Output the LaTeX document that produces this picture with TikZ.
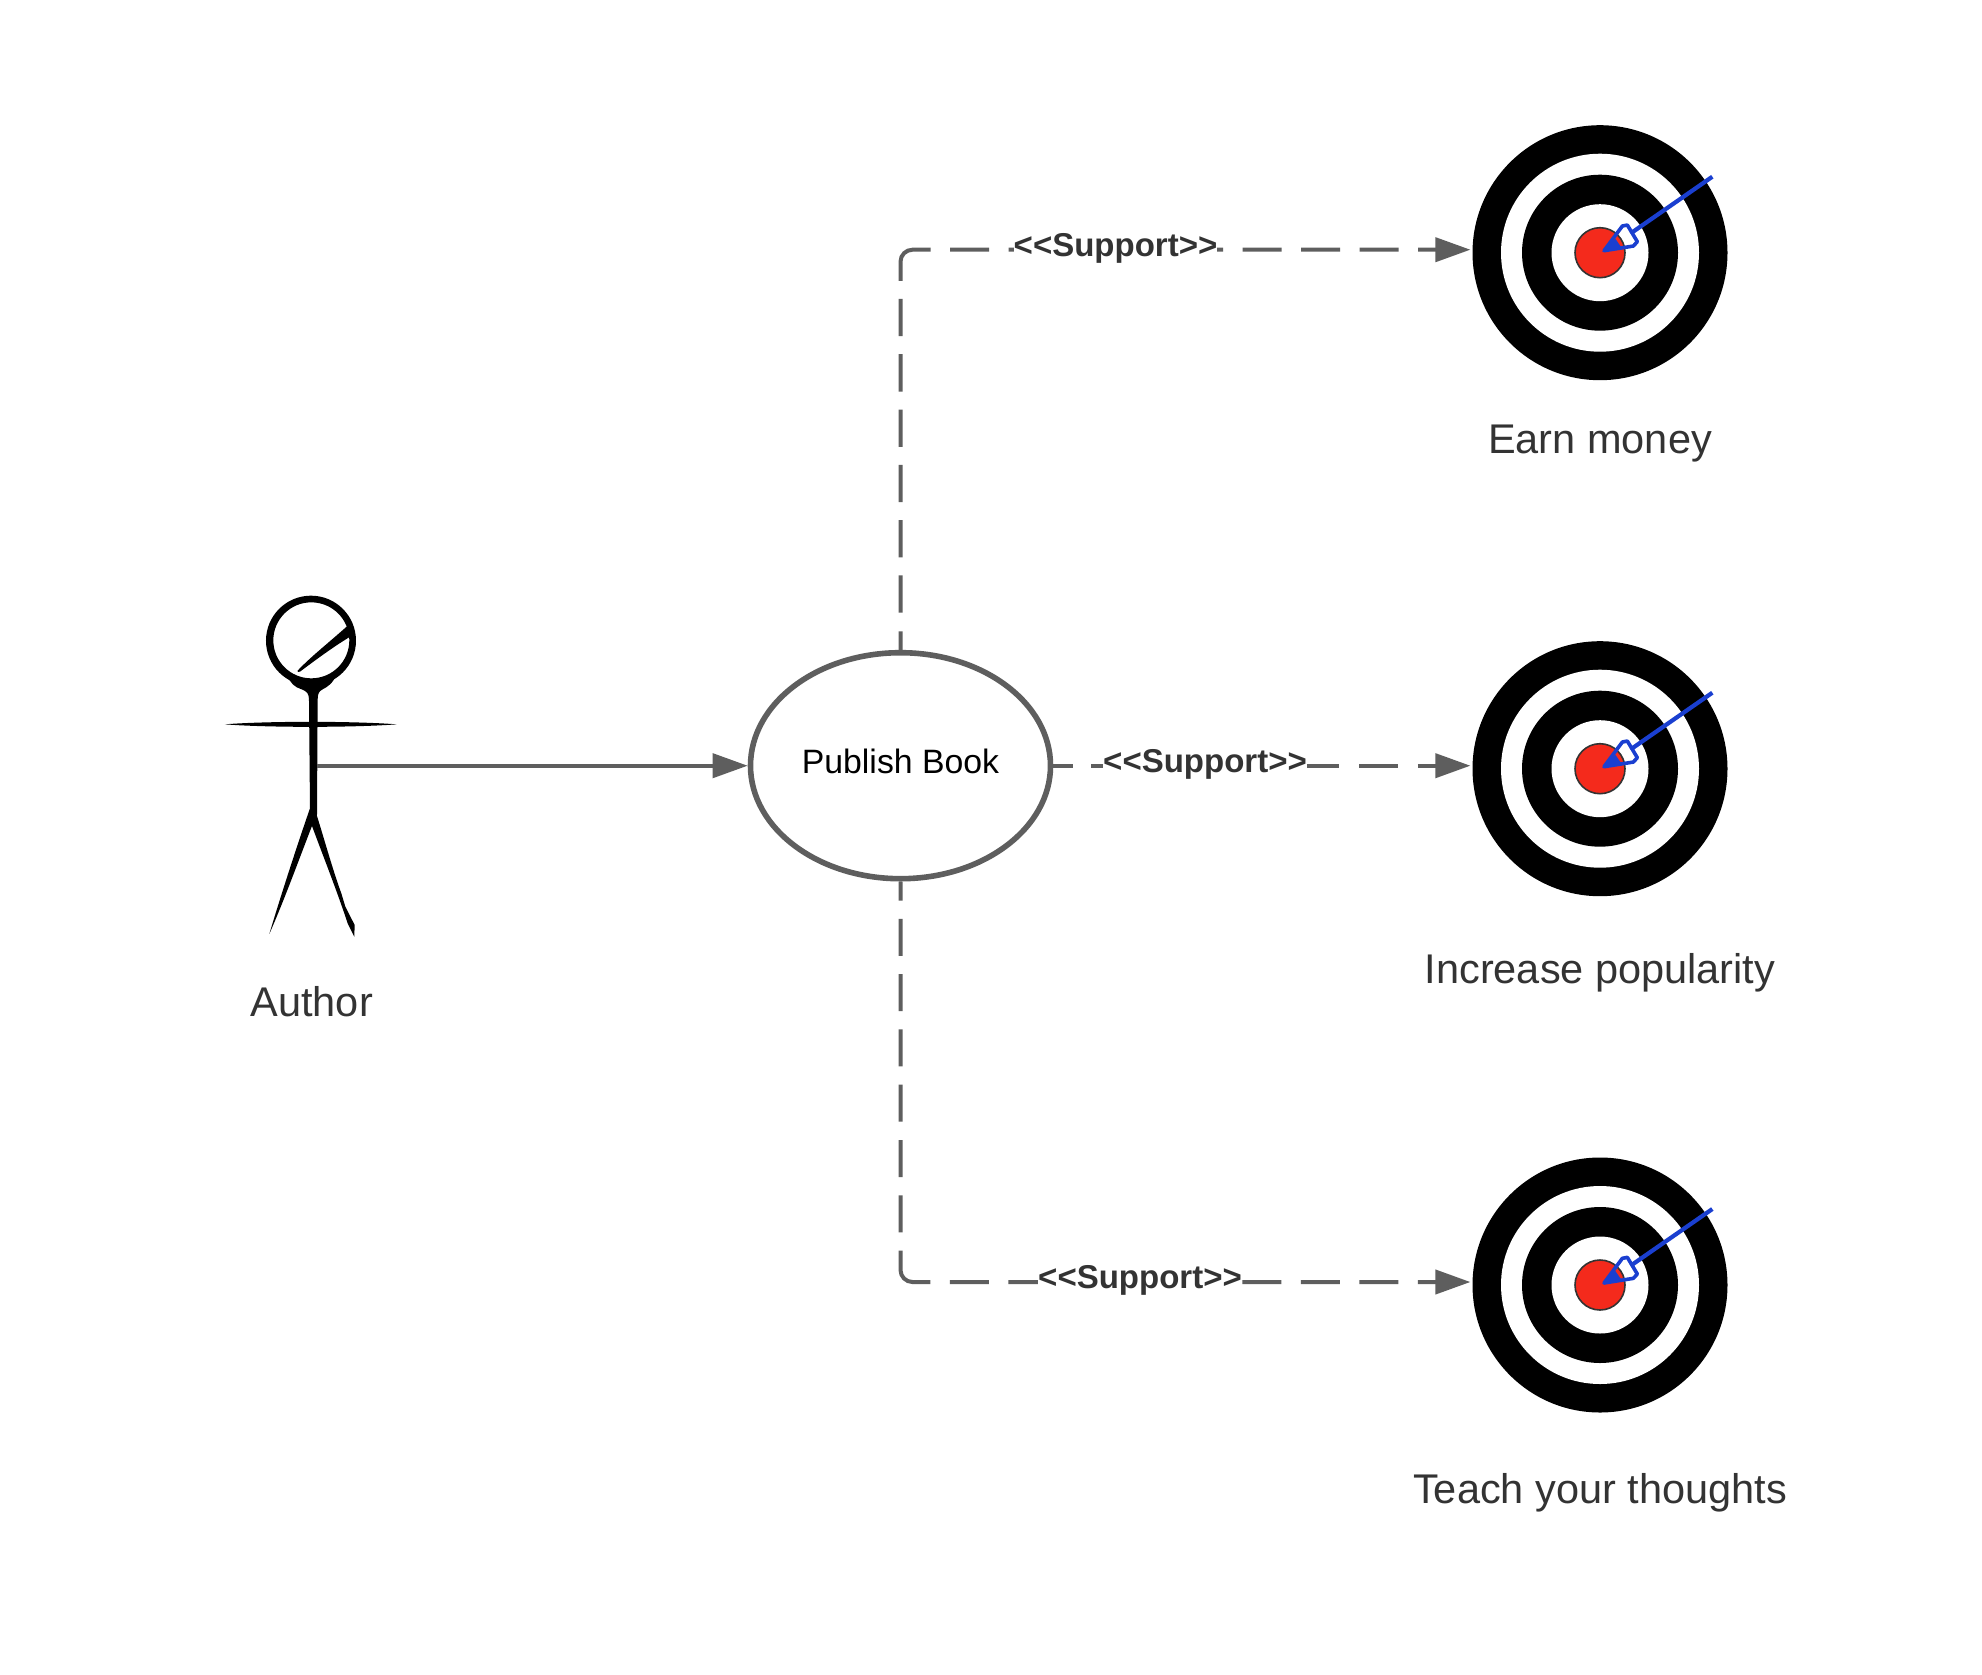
\documentclass[tikz,border=0pt]{standalone}
\usepackage{fontspec}
\setmainfont{Liberation Sans}
\usetikzlibrary{arrows.meta,shapes.geometric}
\definecolor{linegray}{HTML}{5E5E5E}
\definecolor{txtgray}{HTML}{333333}
\definecolor{bullred}{HTML}{F42A1C}
\definecolor{arrowblue}{HTML}{1A3FD0}
\tikzset{
  conn/.style={draw=linegray,line width=4pt,-{Triangle[length=35pt,width=24pt]}},
  usecase/.style={ellipse,draw=linegray,line width=5.6pt,fill=white,minimum width=300pt,minimum height=226pt,inner sep=0pt,
     font=\fontsize{33.8pt}{36pt}\selectfont,text=black,text height=24.3pt,text depth=9.7pt},
  supportlbl/.style={anchor=base,fill=white,inner xsep=0pt,inner ysep=1pt,text=txtgray,font=\fontsize{33pt}{36pt}\selectfont\bfseries},
  captionlbl/.style={anchor=base,inner sep=0pt,text=txtgray,font=\fontsize{41.5pt}{46pt}\selectfont},
  target/.pic={
    \fill[black] (0,0) circle[radius=127.5];
    \fill[white] (0,0) circle[radius=99];
    \fill[black] (0,0) circle[radius=78];
    \fill[white] (0,0) circle[radius=48.5];
    \filldraw[fill=bullred,draw=black!80,line width=1.6pt] (0,0) circle[radius=25];
    \begin{scope}[x=0.3333pt,y=-0.3333pt]
      \draw[arrowblue,line width=4.2pt] (92,-58) -- (337,-228);
      \draw[arrowblue,line width=3.6pt,line join=round] (12,-6) -- (67,-80) -- (82,-83) -- (112,-33) -- (100,-20) -- cycle;
      \fill[arrowblue] (12,-6) -- (46,-42) -- (64,-16) -- cycle;
    \end{scope}
    \coordinate (-in) at (-129.6,-3);
  }
}
\begin{document}
\begin{tikzpicture}[x=1pt,y=-1pt]
\useasboundingbox (0,0) rectangle (1982,1674);
\fill[white] (0,0) rectangle (1982,1674);

% actor
\begin{scope}[shift={(200,570)},x=0.3333pt,y=-0.3333pt]
  \fill[black,even odd rule] (333,212) circle[radius=135] (334,211) circle[radius=114];
  % thick lower rim and neck, body and legs
  \fill[black] (262,315) .. controls (285,338) and (315,340) .. (335,340)
     .. controls (360,340) and (385,338) .. (408,315)
     .. controls (400,340) and (380,352) .. (368,358)
     .. controls (356,364) and (353,372) .. (353,390)
     -- (351,738) .. controls (375,815) and (400,905) .. (424,970)
     -- (436,1010) -- (464,1065) -- (463,1100)
     -- (443,1060) .. controls (410,960) and (370,860) .. (336,768)
     .. controls (300,860) and (255,985) .. (208,1092)
     .. controls (240,985) and (290,830) .. (330,715) -- (327,390)
     .. controls (327,372) and (322,364) .. (305,358)
     .. controls (285,352) and (270,340) .. cycle;
  % arms
  \fill[black] (75,463) .. controls (200,453) and (460,453) .. (590,463)
     .. controls (460,473) and (200,473) .. (75,463) -- cycle;
  % head stroke
  \fill[black] (292,303) .. controls (330,262) and (390,215) .. (442,168)
     -- (454,198) .. controls (400,230) and (340,275) .. (300,305) .. controls (296,306) and (292,306) .. cycle;
\end{scope}
\coordinate (authorbody) at (316.7,765.7);

% use case
\node[usecase] (pub) at (900.5,765.7) {Publish Book};

% targets
\pic (goalA) at (1600,252.7) {target};
\pic (goalB) at (1600,768.7) {target};
\pic (goalC) at (1600,1285) {target};

% connectors
\draw[conn] (authorbody) -- (pub.west);
\draw[conn,rounded corners=12pt,
  dash pattern=on 18.5pt off 18.7pt on 37.3pt off 18pt on 37.3pt off 18pt on 37.3pt off 18pt on 37.3pt off 18pt on 37.3pt off 18pt on 37.3pt off 18pt on 56pt off 19.5pt on 39pt off 19.5pt on 39pt off 19.5pt on 39pt off 19.5pt on 39pt off 19.5pt on 39pt off 19.5pt on 39pt off 19.5pt on 39pt off 19.5pt on 39pt off 19.5pt on 60pt off 0pt]
  (pub.north) |- (goalA-in);
\draw[conn,dash pattern=on 20pt off 18pt on 248pt off 20pt on 39pt off 19.5pt on 60pt off 0pt]
  (pub.east) -- (goalB-in);
\draw[conn,rounded corners=12pt,
  dash pattern=on 19pt off 18.3pt on 37pt off 18.3pt on 37pt off 18.3pt on 37pt off 18.3pt on 37pt off 18.3pt on 37pt off 18.3pt on 37pt off 18.3pt on 56pt off 19.5pt on 39pt off 19.5pt on 39pt off 19.5pt on 39pt off 19.5pt on 39pt off 19.5pt on 39pt off 19.5pt on 39pt off 19.5pt on 39pt off 19.5pt on 39pt off 19.5pt on 60pt off 0pt]
  (pub.south) |- (goalC-in);

% connector labels
\node[supportlbl] (supA) at (1115.5,256.2) {<{}<Support>{}>};
\node[supportlbl] (supB) at (1205,772.9) {<{}<Support>{}>};
\node[supportlbl] (supC) at (1140,1288.7) {<{}<Support>{}>};

% captions
\node[captionlbl] (capAuthor) at (311.7,1016) {Author};
\node[captionlbl] (capA) at (1600,453.3) {Earn money};
\node[captionlbl] (capB) at (1600,983.3) {Increase popularity};
\node[captionlbl] (capC) at (1600,1503.3) {Teach your thoughts};
\end{tikzpicture}
\end{document}
